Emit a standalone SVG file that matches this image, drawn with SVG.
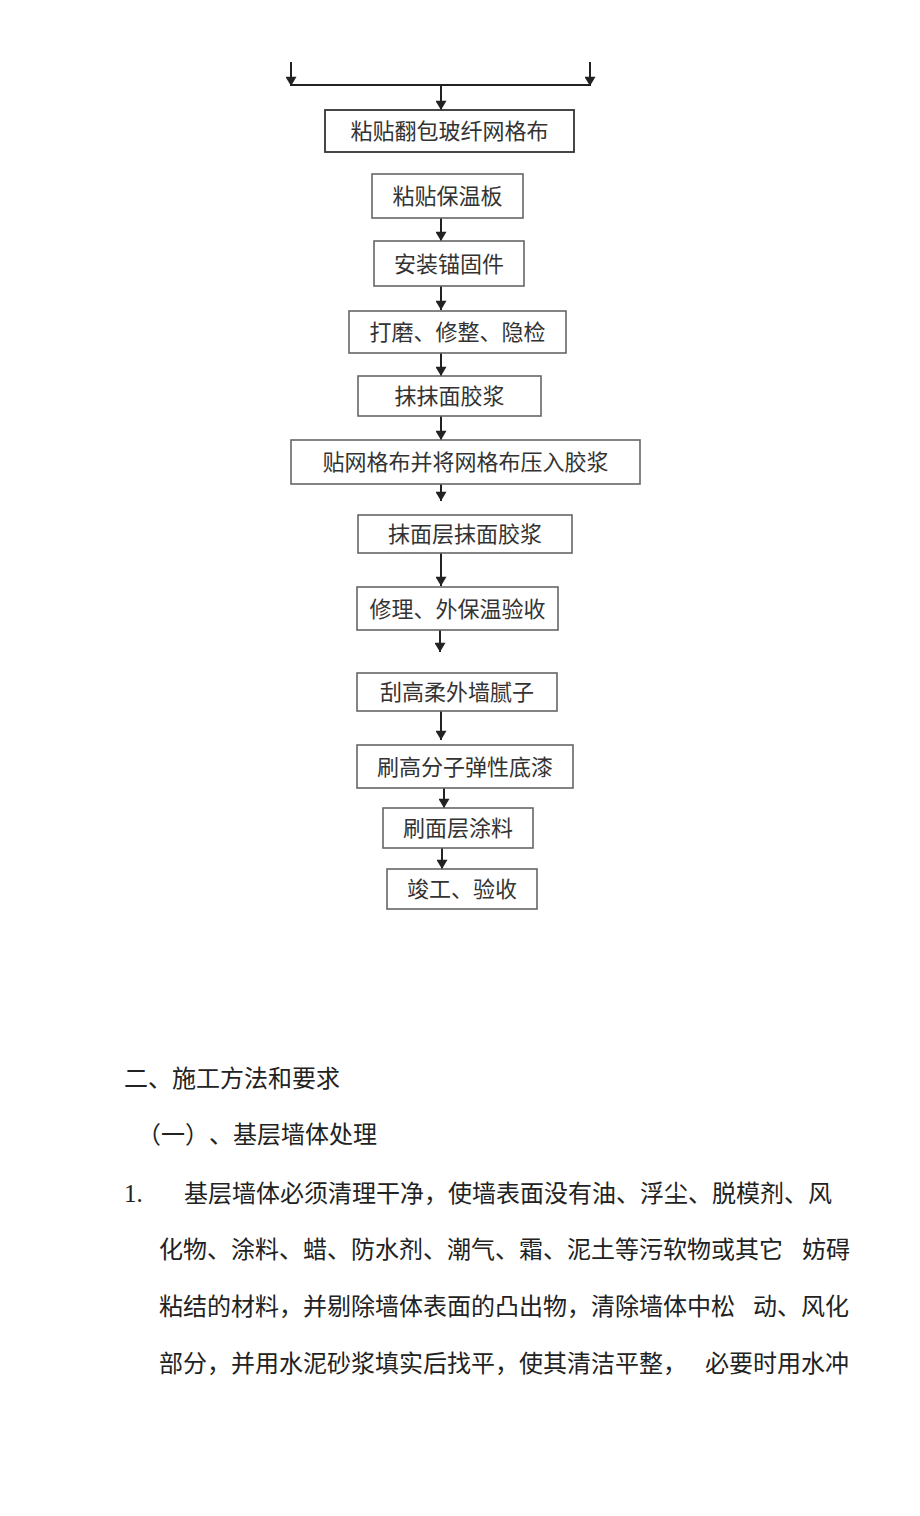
<svg xmlns="http://www.w3.org/2000/svg" width="920" height="1516" viewBox="0 0 920 1516">
<style>
text{text-spacing-trim:space-all;font-kerning:none}
.box{fill:#fff;stroke:#666;stroke-width:1.6}
.box1{fill:#fff;stroke:#333;stroke-width:1.8}
.bt{font-family:"Noto Sans CJK SC",sans-serif;font-size:22px;fill:#333;text-anchor:middle}
.ln{stroke:#222;stroke-width:2;fill:none}
.body{font-family:"Noto Sans CJK SC",sans-serif;font-size:24px;fill:#222}
.num{font-family:"Liberation Serif",serif;font-size:25px;fill:#222}
</style>
<defs>
<marker id="ah" viewBox="0 0 10 12" refX="10" refY="6" markerWidth="11" markerHeight="11" markerUnits="userSpaceOnUse" orient="auto">
<path d="M0,0 L10,6 L0,12 z" fill="#222"/>
</marker>
</defs>
<rect width="920" height="1516" fill="#fff"/>
<g id="connectors">
<line class="ln" x1="291" y1="62" x2="291" y2="86" marker-end="url(#ah)"/>
<line class="ln" x1="590" y1="62" x2="590" y2="86" marker-end="url(#ah)"/>
<line class="ln" x1="291" y1="85" x2="590" y2="85"/>
<line class="ln" x1="441" y1="85" x2="441" y2="110" marker-end="url(#ah)"/>
<line class="ln" x1="441" y1="218" x2="441" y2="241" marker-end="url(#ah)"/>
<line class="ln" x1="441" y1="286" x2="441" y2="310" marker-end="url(#ah)"/>
<line class="ln" x1="441" y1="353" x2="441" y2="376" marker-end="url(#ah)"/>
<line class="ln" x1="441" y1="416" x2="441" y2="440" marker-end="url(#ah)"/>
<line class="ln" x1="441" y1="484" x2="441" y2="501" marker-end="url(#ah)"/>
<line class="ln" x1="441" y1="553" x2="441" y2="586" marker-end="url(#ah)"/>
<line class="ln" x1="440" y1="630" x2="440" y2="652" marker-end="url(#ah)"/>
<line class="ln" x1="441" y1="711" x2="441" y2="740" marker-end="url(#ah)"/>
<line class="ln" x1="444" y1="788" x2="444" y2="808" marker-end="url(#ah)"/>
<line class="ln" x1="442" y1="848" x2="442" y2="869" marker-end="url(#ah)"/>
</g>
<g id="n1"><rect class="box1" x="325" y="110" width="249" height="42"/><text class="bt" x="449.5" y="139">粘贴翻包玻纤网格布</text></g>
<g id="n2"><rect class="box" x="372" y="174" width="151" height="44"/><text class="bt" x="447.5" y="204">粘贴保温板</text></g>
<g id="n3"><rect class="box" x="374" y="241" width="150" height="45"/><text class="bt" x="449" y="272">安装锚固件</text></g>
<g id="n4"><rect class="box" x="349" y="311" width="217" height="42"/><text class="bt" x="457.5" y="340">打磨、修整、隐检</text></g>
<g id="n5"><rect class="box" x="358" y="376" width="183" height="40"/><text class="bt" x="449.5" y="404">抹抹面胶浆</text></g>
<g id="n6"><rect class="box" x="291" y="440" width="349" height="44"/><text class="bt" x="465.5" y="470">贴网格布并将网格布压入胶浆</text></g>
<g id="n7"><rect class="box" x="358" y="515" width="214" height="38"/><text class="bt" x="465" y="542">抹面层抹面胶浆</text></g>
<g id="n8"><rect class="box" x="357" y="587" width="201" height="43"/><text class="bt" x="457.5" y="617">修理、外保温验收</text></g>
<g id="n9"><rect class="box" x="357" y="673" width="200" height="38"/><text class="bt" x="457" y="700">刮高柔外墙腻子</text></g>
<g id="n10"><rect class="box" x="357" y="745" width="216" height="43"/><text class="bt" x="465" y="775">刷高分子弹性底漆</text></g>
<g id="n11"><rect class="box" x="383" y="808" width="150" height="40"/><text class="bt" x="458" y="836">刷面层涂料</text></g>
<g id="n12"><rect class="box" x="387" y="869" width="150" height="40"/><text class="bt" x="462" y="897">竣工、验收</text></g>
<g id="text">
<text class="body" x="124" y="1087">二、施工方法和要求</text>
<text class="body" x="137 161 185 209 233 257 281 305 329 353" y="1143">（一）、基层墙体处理</text>
<text class="num" x="124" y="1202">1.</text>
<text class="body" x="184" y="1202">基层墙体必须清理干净，使墙表面没有油、浮尘、脱模剂、风</text>
<text class="body" x="159" y="1258">化物、涂料、蜡、防水剂、潮气、霜、泥土等污软物或其它</text>
<text class="body" x="802" y="1258">妨碍</text>
<text class="body" x="159" y="1315">粘结的材料，并剔除墙体表面的凸出物，清除墙体中松</text>
<text class="body" x="753" y="1315">动、风化</text>
<text class="body" x="159" y="1372">部分，并用水泥砂浆填实后找平，使其清洁平整，</text>
<text class="body" x="705" y="1372">必要时用水冲</text>
</g>
</svg>
